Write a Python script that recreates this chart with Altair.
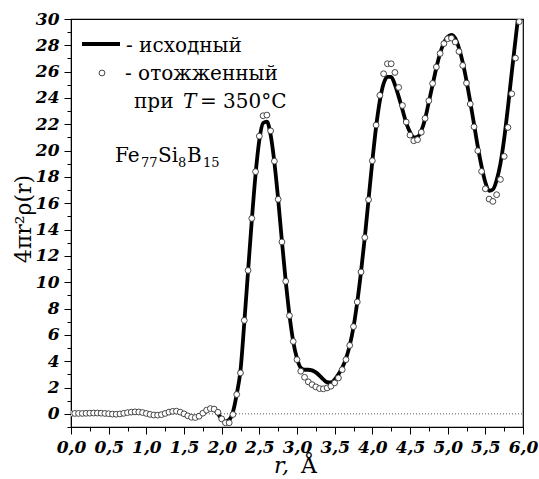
import altair as alt
import pandas as pd

# ---- data ----
# annealed sample (circles), r step 0.05 from 0.00 to 5.95
r_annealed = [round(i * 0.05, 2) for i in range(120)]
g_annealed = [
    0.02, 0.03, 0.03, 0.03, 0.04, 0.05, 0.06, 0.06, 0.05, 0.03,
    0.01, -0.02, -0.03, -0.01, 0.04, 0.09, 0.13, 0.15, 0.14, 0.10,
    0.03, -0.04, -0.09, -0.10, -0.06, 0.03, 0.13, 0.19, 0.20, 0.13,
    0.00, -0.15, -0.26, -0.28, -0.18, 0.05, 0.28, 0.40, 0.36, 0.12,
    -0.38, -0.68, -0.68, -0.05, 1.47, 3.11, 7.1, 10.9, 14.85, 18.4,
    21.1, 22.65, 22.7, 21.5, 19.2, 16.3, 13.06, 10.07, 7.46, 5.5,
    4.12, 3.24, 2.78, 2.43, 2.22, 2.05, 1.92, 1.9, 1.97, 2.1,
    2.35, 2.73, 3.36, 4.12, 5.2, 6.63, 8.5, 10.78, 13.4, 16.27,
    19.23, 21.94, 24.2, 25.84, 26.6, 26.6, 25.94, 24.8, 23.43, 22.17,
    21.18, 20.75, 20.83, 21.4, 22.45, 23.79, 25.1, 26.35, 27.38, 28.13,
    28.5, 28.55, 28.25, 27.53, 26.47, 25.13, 23.54, 21.81, 19.99, 18.42,
    17.1, 16.32, 16.14, 16.65, 17.81, 19.56, 21.76, 24.32, 27.03, 29.8,
]

# initial sample (solid line), r step 0.05 from 1.80 to 5.95
r_initial = [round(1.80 + i * 0.05, 2) for i in range(84)]
g_initial = [
    0.26, 0.38, 0.30, 0.0, -0.38, -0.58, -0.45, 0.15, 1.5, 3.3,
    6.9, 10.8, 14.7, 18.2, 20.8, 22.1, 22.2, 21.2, 19.1, 16.3,
    13.1, 10.1, 7.5, 5.5, 4.2, 3.5, 3.35, 3.35, 3.3, 3.15,
    2.9, 2.62, 2.4, 2.38, 2.6, 3.0, 3.5, 4.2, 5.2, 6.6,
    8.5, 10.8, 13.4, 16.3, 19.2, 21.8, 23.8, 25.1, 25.6, 25.6,
    25.0, 24.1, 23.1, 22.1, 21.4, 21.0, 21.05, 21.5, 22.4, 23.7,
    25.0, 26.3, 27.4, 28.2, 28.65, 28.8, 28.55, 27.8, 26.7, 25.3,
    23.7, 22.0, 20.3, 18.8, 17.6, 16.95, 17.05, 17.75, 19.0, 20.9,
    23.3, 25.9, 28.4, 30.9,
]

x_major = [0, 0.5, 1, 1.5, 2, 2.5, 3, 3.5, 4, 4.5, 5, 5.5, 6]
x_minor = [0.25, 0.75, 1.25, 1.75, 2.25, 2.75, 3.25, 3.75, 4.25, 4.75, 5.25, 5.75]
y_major = list(range(0, 31, 2))
y_minor = list(range(-1, 31, 2))
zero_r = [0, 6]
zero_v = [0, 0]

FONT = "DejaVu Serif"
W, H = 452, 408

df_a = pd.DataFrame({"r": r_annealed, "v": g_annealed})
df_i = pd.DataFrame({"r": r_initial, "v": g_initial})
df_z = pd.DataFrame({"r": zero_r, "v": zero_v})

xs = alt.Scale(domain=[0, 6], nice=False, zero=False)
ys = alt.Scale(domain=[-1, 30], nice=False, zero=False)

lab_common = dict(labelFont=FONT, labelFontStyle="italic", labelFontWeight="bold",
                  labelFontSize=17, labelColor="black", domainColor="black",
                  tickColor="black", grid=False, title=None, labelFlush=False,
                  labelOverlap=False)

ax_x_major = alt.Axis(orient="bottom", values=x_major, tickSize=7, labelPadding=5,
                      labelExpr="replace(format(datum.value, '.1f'), '.', ',')", **lab_common)
ax_y_major = alt.Axis(orient="left", values=y_major, tickSize=7, labelPadding=5,
                      format="d", **lab_common)
ax_x_minor = alt.Axis(orient="bottom", values=x_minor, tickSize=4, labels=False,
                      domain=False, grid=False, title=None, tickColor="black")
ax_y_minor = alt.Axis(orient="left", values=y_minor, tickSize=4, labels=False,
                      domain=False, grid=False, title=None, tickColor="black")

zero = alt.Chart(df_z).mark_line(color="#444444", strokeWidth=0.9, strokeDash=[1, 2]).encode(
    x=alt.X("r:Q", scale=xs, axis=None), y=alt.Y("v:Q", scale=ys, axis=None))

line = alt.Chart(df_i).mark_line(color="black", strokeWidth=3.8, interpolate="monotone", clip=True).encode(
    x=alt.X("r:Q", scale=xs, axis=ax_x_major), y=alt.Y("v:Q", scale=ys, axis=ax_y_major))

pts = alt.Chart(df_a).mark_circle(size=34, fill="white", fillOpacity=1, opacity=1,
                                  stroke="#333333", strokeWidth=0.9, clip=True).encode(
    x=alt.X("r:Q", scale=xs, axis=ax_x_minor), y=alt.Y("v:Q", scale=ys, axis=ax_y_minor))


def txt(s, x, y, size=20, style="normal", align="left", baseline="alphabetic", angle=None):
    kw = dict(align=align, baseline=baseline, font=FONT, fontSize=size,
              fontStyle=style, color="black")
    if angle is not None:
        kw["angle"] = angle
    return alt.Chart(pd.DataFrame({"t": [s]})).mark_text(**kw).encode(
        x=alt.value(x), y=alt.value(y), text="t:N")


leg_line = alt.Chart(pd.DataFrame({"a": [0]})).mark_rule(color="black", strokeWidth=3.8).encode(
    x=alt.value(11), x2=alt.value(49), y=alt.value(25))
leg_pt = alt.Chart(pd.DataFrame({"a": [0]})).mark_circle(
    size=34, fill="white", fillOpacity=1, opacity=1, stroke="#333333", strokeWidth=0.9).encode(
    x=alt.value(31), y=alt.value(54))

texts = [
    txt("- исходный", 55, 33),
    txt("- отожженный", 54, 61),
    txt("при", 63, 89),
    txt("T", 112, 89, style="italic"),
    txt("= 350°C", 129, 89),
    txt("Fe", 44, 143),
    txt("77", 70, 148, size=13),
    txt("Si", 87, 143),
    txt("8", 107, 148, size=13),
    txt("B", 116, 143),
    txt("15", 132, 148, size=13),
    txt("4πr²ρ(r)", -47, 200, size=22, align="center", baseline="middle", angle=270),
    txt("r,", 203, 454, size=22, style="italic"),
    txt("Å", 230, 454, size=22),
]

chart = alt.layer(zero, line, pts, leg_line, leg_pt, *texts).resolve_axis(
    x="independent", y="independent"
).properties(
    width=W, height=H,
    autosize=alt.AutoSizeParams(type="none"),
    padding={"left": 71, "top": 19, "right": 16, "bottom": 52},
).configure_view(stroke="black", strokeWidth=1.2)

chart.save("out.html", embed_options={"renderer": "svg", "actions": False})
